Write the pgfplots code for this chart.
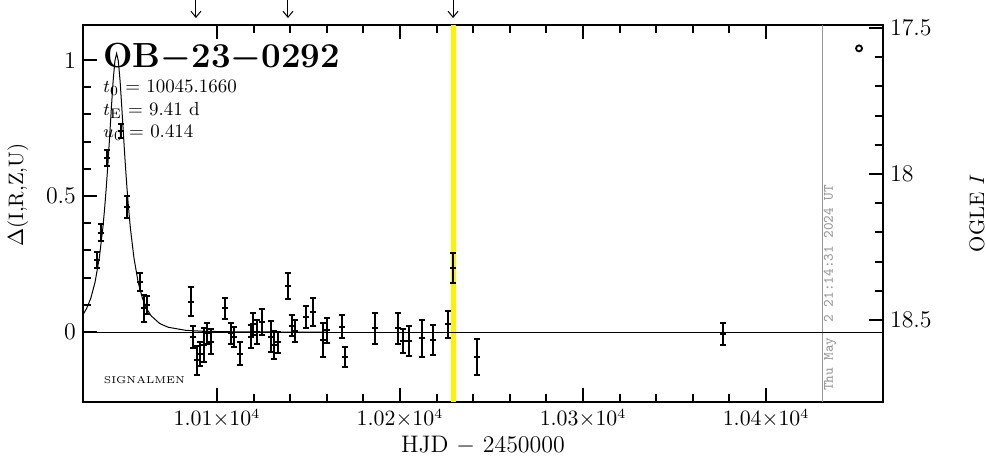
\documentclass[border=0pt]{standalone}
\usepackage{pgfplots}
\pgfplotsset{compat=1.18}
\usetikzlibrary{arrows.meta}
\definecolor{stampgray}{RGB}{150,150,150}
\begin{document}
\begin{tikzpicture}
\begin{axis}[
  scale only axis, width=400bp, height=188.5bp,
  xmin=10026.8, xmax=10463.9, ymin=-0.257, ymax=1.129,
  scaled x ticks=false, scaled y ticks=false,
  axis line style={line width=1.2bp},
  tick style={line width=1bp, black},
  tick align=inside,
  major tick length=7bp, minor tick length=4bp,
  xtick={10100,10200,10300,10400},
  xticklabels={$1.01{\times}10^{4}$,$1.02{\times}10^{4}$,$1.03{\times}10^{4}$,$1.04{\times}10^{4}$},
  minor x tick num=4,
  xtick pos=both,
  ytick={0,0.5,1}, yticklabels={0,0.5,1},
  minor y tick num=4,
  ytick pos=left,
  x tick label style={font=\fontsize{10.5}{12}\selectfont},
  y tick label style={font=\fontsize{12}{14}\selectfont},
  clip=false,
]
% vertical markers
\addplot[yellow, line width=2.5bp] coordinates {(10229.0,-0.257) (10229.0,1.129)};
\addplot[stampgray, line width=0.6bp] coordinates {(10431.0,-0.257) (10431.0,1.129)};
% baseline
\addplot[black, line width=0.5bp] coordinates {(10026.8,0) (10463.9,0)};
% model curve
\addplot[black, line width=0.5bp] coordinates {
(10026.80,0.0640) (10028.70,0.0857) (10031.05,0.1243) (10033.40,0.1835) (10035.76,0.2752)
(10037.64,0.3829) (10038.58,0.4515) (10039.52,0.5313) (10040.46,0.6223) (10041.40,0.7228)
(10042.34,0.8274) (10043.28,0.9248) (10044.23,0.9969) (10045.17,1.0240) (10046.11,0.9969)
(10047.05,0.9248) (10047.99,0.8274) (10048.93,0.7228) (10049.87,0.6223) (10050.81,0.5313)
(10051.75,0.4515) (10052.69,0.3829) (10054.58,0.2752) (10056.93,0.1835) (10059.28,0.1243)
(10061.63,0.0857) (10063.99,0.0602) (10068.69,0.0315) (10073.40,0.0177) (10082.81,0.0066)
(10092.22,0.0030) (10111.04,0.0008) (10139.27,0.0002) (10160.00,0.0000)
};
% data
\addplot[black, only marks, mark=-, mark size=1.5bp, mark options={line width=1bp},
  error bars/.cd, y dir=both, y explicit,
  error bar style={line width=1bp},
  error mark options={rotate=90, mark size=1.5bp, line width=1bp}]
  table[x=t, y=d, y error=e] {
t d e
10034.4 0.265 0.028
10036.8 0.366 0.030
10039.9 0.640 0.028
10047.4 0.740 0.025
10051.0 0.460 0.040
10058.1 0.185 0.033
10060.3 0.088 0.050
10061.9 0.100 0.033
10085.6 0.111 0.053
10086.7 -0.017 0.040
10088.9 -0.103 0.053
10090.7 -0.080 0.044
10092.9 -0.048 0.062
10094.7 -0.005 0.038
10096.6 -0.036 0.046
10104.4 0.087 0.040
10107.7 -0.005 0.040
10109.3 -0.017 0.037
10112.6 -0.080 0.042
10118.4 -0.017 0.042
10119.8 0.030 0.041
10121.7 0.001 0.044
10124.4 0.038 0.047
10129.5 -0.017 0.058
10131.1 -0.048 0.052
10133.5 -0.038 0.039
10138.6 0.169 0.048
10140.8 0.024 0.038
10142.6 0.005 0.041
10148.5 0.055 0.040
10152.6 0.075 0.052
10158.0 -0.029 0.064
10160.2 0.007 0.046
10168.2 0.020 0.042
10170.0 -0.090 0.037
10186.3 0.014 0.057
10199.1 0.014 0.057
10201.8 -0.033 0.043
10205.1 -0.033 0.055
10212.2 -0.023 0.069
10217.9 -0.029 0.055
10226.1 0.028 0.050
10229.2 0.234 0.055
10241.9 -0.090 0.066
10376.7 -0.007 0.039
};
% arrows above the frame
\draw[line width=0.5bp, -{Straight Barb[length=3bp,width=5bp]}] ([yshift=12.5bp]axis cs:10088.5,1.129) -- ([yshift=3.5bp]axis cs:10088.5,1.129);
\draw[line width=0.5bp, -{Straight Barb[length=3bp,width=5bp]}] ([yshift=12.5bp]axis cs:10138.8,1.129) -- ([yshift=3.5bp]axis cs:10138.8,1.129);
\draw[line width=0.5bp, -{Straight Barb[length=3bp,width=5bp]}] ([yshift=12.5bp]axis cs:10229.0,1.129) -- ([yshift=3.5bp]axis cs:10229.0,1.129);
% texts
\node[anchor=base west, inner sep=0pt, font=\bfseries\fontsize{17.5}{21}\selectfont] at ([xshift=10bp,yshift=-21.5bp]rel axis cs:0,1) {OB{\boldmath$-$}23{\boldmath$-$}0292};
\node[anchor=base west, inner sep=0pt, font=\fontsize{9.5}{11}\selectfont] at ([xshift=10bp,yshift=-34bp]rel axis cs:0,1) {$t_0$ = 10045.1660};
\node[anchor=base west, inner sep=0pt, font=\fontsize{9.5}{11}\selectfont] at ([xshift=10bp,yshift=-45.25bp]rel axis cs:0,1) {$t_{\mathrm{E}}$ = 9.41 d};
\node[anchor=base west, inner sep=0pt, font=\fontsize{9.5}{11}\selectfont] at ([xshift=10bp,yshift=-56.5bp]rel axis cs:0,1) {$u_0$ = 0.414};
\node[anchor=base west, inner sep=0pt, font=\fontsize{5}{6}\selectfont] at ([xshift=10.2bp,yshift=9.5bp]rel axis cs:0,0) {SIGNALMEN};
\node[rotate=90, inner sep=0pt, text=stampgray, font=\ttfamily\fontsize{7.2}{8}\selectfont] at (axis cs:10435,0.162) {Thu May\ \ 2 21:14:31 2024 UT};
\node[rotate=90, inner sep=0pt, font=\fontsize{10.5}{12}\selectfont] at ([xshift=-32.5bp]rel axis cs:0,0.549) {$\Delta$(I,R,Z,U)};
\node[inner sep=0pt, font=\fontsize{12}{14}\selectfont] at ([yshift=-21.5bp]rel axis cs:0.5,0) {HJD $-$ 2450000};
\end{axis}
\begin{axis}[
  scale only axis, width=400bp, height=188.5bp,
  xmin=10026.8, xmax=10463.9, ymin=17.49, ymax=18.78,
  y dir=reverse,
  axis x line=none, axis y line*=right,
  axis line style={line width=1.2bp},
  tick style={line width=1bp, black},
  tick align=inside,
  major tick length=7bp, minor tick length=4bp,
  ytick={17.5,18,18.5}, yticklabels={17.5,18,18.5},
  minor y tick num=4,
  y tick label style={font=\fontsize{12}{14}\selectfont},
  clip=false,
]
\addplot[black, only marks, mark=o, mark size=1.5bp, mark options={line width=0.9bp}] coordinates {(10450.8,17.57)};
\node[rotate=90, inner sep=0pt, font=\fontsize{10.5}{12}\selectfont] at ([xshift=47bp]rel axis cs:1,0.5) {OGLE \textit{I}};
\end{axis}
\pgfresetboundingbox
\path[use as bounding box] (-41.5bp,-28.5bp) rectangle (451.5bp,201bp);
\end{tikzpicture}
\end{document}
